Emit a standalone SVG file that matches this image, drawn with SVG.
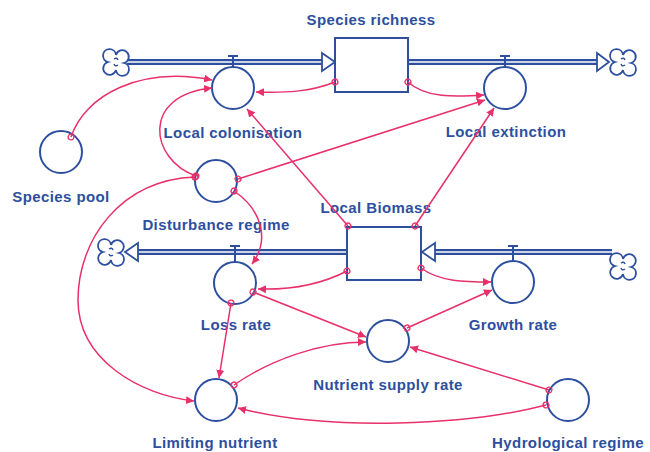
<svg xmlns="http://www.w3.org/2000/svg" width="650" height="452" viewBox="0 0 650 452">
<style>
.lbl{font-family:"Liberation Sans",Arial,sans-serif;font-weight:bold;font-size:15px;letter-spacing:0.4px;fill:#2d4f9e;text-anchor:middle}
.node{fill:#fff;stroke:#2d4f9e;stroke-width:2}
.pipe{fill:none;stroke:#2d4f9e;stroke-width:6}
.pipein{fill:none;stroke:#fff;stroke-width:1.6}
.tri{fill:#fff;stroke:#2d4f9e;stroke-width:1.8;stroke-linejoin:miter}
.valve{fill:none;stroke:#2d4f9e;stroke-width:2}
.cloud{fill:#fff;stroke:#2d4f9e;stroke-width:1.8}
.link{fill:none;stroke:#e8306a;stroke-width:1.5;marker-start:url(#src);marker-end:url(#arr)}
</style>
<defs>
<marker id="arr" viewBox="0 0 10 10" refX="10" refY="5" markerWidth="8" markerHeight="8" markerUnits="userSpaceOnUse" orient="auto">
<path d="M0,0 L10,5 L0,10 z" fill="#e8306a"/>
</marker>
<marker id="src" viewBox="0 0 10 10" refX="5" refY="5" markerWidth="8" markerHeight="8" markerUnits="userSpaceOnUse" orient="auto">
<circle cx="5" cy="5" r="3.6" fill="none" stroke="#e8306a" stroke-width="1.6"/>
</marker>
<g id="cloudShape">
<path class="cloud" d="M0,-7 A6.5,6.5 0 1 1 8,1 A6.5,6.5 0 1 1 0,8 A6.5,6.5 0 1 1 -8,0 A6.5,6.5 0 1 1 0,-7 z"/>
<path d="M-2,-3 q3,-2 4,1 M2,3 q-3,2 -4,-1" fill="none" stroke="#2d4f9e" stroke-width="1.4"/>
</g>
</defs>
<rect width="650" height="452" fill="#fff"/>

<g id="flows">
<path class="pipe" d="M127,62 H323"/><path class="pipein" d="M127,62 H323"/>
<polygon class="tri" points="322,53 335,62 322,71"/>
<path class="pipe" d="M408,62 H597"/><path class="pipein" d="M408,62 H597"/>
<polygon class="tri" points="597,53 609,62 597,71"/>
<path class="pipe" d="M137,252 H347"/><path class="pipein" d="M137,252 H347"/>
<polygon class="tri" points="138,243 125,252 138,261"/>
<path class="pipe" d="M435,252 H612"/><path class="pipein" d="M435,252 H612"/>
<polygon class="tri" points="435,243 422,252 435,261"/>
<use href="#cloudShape" x="116" y="62"/>
<use href="#cloudShape" x="623" y="62"/>
<use href="#cloudShape" x="111" y="252"/>
<use href="#cloudShape" x="623" y="266"/>
<path class="valve" d="M228,56 H238 M233,56 V67"/>
<path class="valve" d="M500,56 H510 M505,56 V67"/>
<path class="valve" d="M230,246 H240 M235,246 V262"/>
<path class="valve" d="M508,246 H518 M513,246 V261"/>
</g>

<g id="species-richness"><rect class="node" x="335" y="38" width="73" height="54"/><text class="lbl" x="371" y="25">Species richness</text></g>
<g id="local-biomass"><rect class="node" x="347" y="227" width="74" height="53"/><text class="lbl" x="376" y="213">Local Biomass</text></g>
<g id="local-colonisation"><circle class="node" cx="233" cy="88" r="21"/><text class="lbl" x="233" y="138">Local colonisation</text></g>
<g id="local-extinction"><circle class="node" cx="505" cy="88" r="21"/><text class="lbl" x="506" y="137">Local extinction</text></g>
<g id="species-pool"><circle class="node" cx="61" cy="152" r="21"/><text class="lbl" x="61" y="202">Species pool</text></g>
<g id="disturbance-regime"><circle class="node" cx="216" cy="181" r="21"/><text class="lbl" x="216" y="230">Disturbance regime</text></g>
<g id="loss-rate"><circle class="node" cx="235" cy="283" r="21"/><text class="lbl" x="236" y="330">Loss rate</text></g>
<g id="growth-rate"><circle class="node" cx="513" cy="282" r="21"/><text class="lbl" x="513" y="330">Growth rate</text></g>
<g id="nutrient-supply-rate"><circle class="node" cx="388" cy="341" r="21"/><text class="lbl" x="388" y="390">Nutrient supply rate</text></g>
<g id="limiting-nutrient"><circle class="node" cx="216" cy="400" r="21"/><text class="lbl" x="215" y="448">Limiting nutrient</text></g>
<g id="hydrological-regime"><circle class="node" cx="568" cy="400" r="21"/><text class="lbl" x="568" y="448">Hydrological regime</text></g>

<g id="connectors">
<path class="link" d="M71,137 C85,95 140,66 212,80"/>
<path class="link" d="M196,176 C150,160 140,95 212,88"/>
<path class="link" d="M335,82 C310,92 285,93 256,92"/>
<path class="link" d="M348,226 L247,109"/>
<path class="link" d="M408,82 C425,98 455,97 484,95"/>
<path class="link" d="M238,179 L485,100"/>
<path class="link" d="M415,226 L494,108"/>
<path class="link" d="M234,191 C262,210 270,240 252,264"/>
<path class="link" d="M195,177 C120,180 78,240 78,300 C78,360 140,395 194,401"/>
<path class="link" d="M347,271 C320,285 290,290 258,289"/>
<path class="link" d="M253,292 L366,337"/>
<path class="link" d="M231,303 L219,378"/>
<path class="link" d="M421,268 C440,282 465,282 491,282"/>
<path class="link" d="M407,328 L492,290"/>
<path class="link" d="M549,390 L410,347"/>
<path class="link" d="M546,405 C470,425 330,432 238,408"/>
<path class="link" d="M234,385 C270,360 320,342 366,342"/>
</g>
</svg>
